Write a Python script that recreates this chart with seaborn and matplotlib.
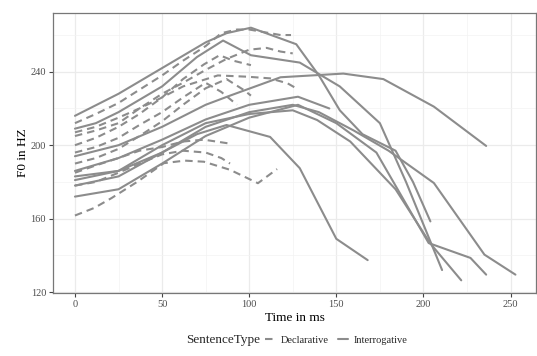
import matplotlib
matplotlib.use("Agg")
import matplotlib.pyplot as plt
from matplotlib.lines import Line2D
import seaborn as sns
import pandas as pd

# ---- data: Interrogative (solid) contours ----
int1_time = [0, 25, 50, 75, 87, 101, 127, 140, 152, 165, 184, 194, 204]
int1_f0 = [216, 228, 242, 256, 261, 264, 255, 238, 219, 206, 197, 180, 158.5]
int2_time = [0, 12, 25, 50, 70, 85, 101, 129, 152, 175, 190, 210.7]
int2_f0 = [209, 212, 218, 232, 248, 257, 249, 245, 232, 212, 180, 132]
int3_time = [0, 25, 50, 75, 89, 118, 154, 177, 206, 236]
int3_f0 = [194, 200, 210, 222, 227, 237, 239, 236, 221, 199.6]
int4_time = [0, 25, 50, 75, 100, 128, 146]
int4_f0 = [186, 193, 203, 214, 222, 226.4, 220]
int5_time = [0, 25, 50, 75, 100, 125, 140, 160, 180, 206, 235, 252.8]
int5_f0 = [178, 183, 196, 210, 218, 222, 218, 208, 197, 179.4, 140.4, 129.5]
int6_time = [0, 25, 50, 75, 100, 128, 150, 173, 203, 227, 236]
int6_f0 = [172, 176, 190, 205, 215, 222, 212, 196, 146.7, 138.6, 129.5]
int7_time = [0, 25, 50, 75, 100, 125, 139, 158, 184, 204, 221.7]
int7_f0 = [183, 186, 200, 212, 217, 219, 213.7, 202, 176, 146.4, 126.4]
int8_time = [0, 25, 50, 70, 87, 112, 129, 150, 168]
int8_f0 = [181, 186, 196, 206, 211, 204.5, 187.5, 149, 137.4]

# ---- data: Declarative (dashed) contours ----
dec1_time = [0, 11, 21, 36, 51, 63, 74, 89, 105, 116]
dec1_f0 = [161.7, 165.8, 171.2, 180.2, 190.2, 191.6, 191, 186.6, 179.3, 187]
dec2_time = [0, 12, 25, 37, 50, 62, 75, 84, 89]
dec2_f0 = [178, 180, 185, 190, 195, 197, 196, 193, 190]
dec3_time = [0, 12, 25, 37, 50, 62, 74, 88]
dec3_f0 = [185, 189, 193, 197, 199, 202, 203, 201]
dec4_time = [0, 12, 25, 37, 50, 62, 82, 99, 112, 122, 127]
dec4_f0 = [207, 210, 215, 220, 226, 232, 238, 237.3, 236.4, 233.7, 231]
dec5_time = [0, 12, 25, 50, 62, 75, 84, 93, 100, 118, 124]
dec5_f0 = [212, 217, 223, 238, 246, 254, 261, 263, 263, 260, 260]
dec6_time = [0, 12, 25, 37, 50, 62, 75, 87, 100, 110, 118, 125]
dec6_f0 = [205, 208, 212, 220, 228, 234, 241, 247, 252, 253, 251, 250]
dec7_time = [0, 12, 25, 37, 50, 62, 74, 83, 91, 101]
dec7_f0 = [200, 204, 210, 217, 226, 236, 244, 249, 246, 243.6]
dec8_time = [0, 12, 25, 37, 50, 62, 75, 84, 93]
dec8_f0 = [196, 199, 204, 211, 218, 226, 234, 229, 222]
dec9_time = [0, 12, 25, 37, 50, 62, 75, 87, 97, 101]
dec9_f0 = [190, 193, 198, 205, 213, 222, 231, 236, 230, 227]

sentence_types = ["Declarative", "Interrogative"]

interrogatives = [(int1_time, int1_f0), (int2_time, int2_f0), (int3_time, int3_f0),
                  (int4_time, int4_f0), (int5_time, int5_f0), (int6_time, int6_f0),
                  (int7_time, int7_f0), (int8_time, int8_f0)]
declaratives = [(dec1_time, dec1_f0), (dec2_time, dec2_f0), (dec3_time, dec3_f0),
                (dec4_time, dec4_f0), (dec5_time, dec5_f0), (dec6_time, dec6_f0),
                (dec7_time, dec7_f0), (dec8_time, dec8_f0), (dec9_time, dec9_f0)]

rows = []
for i, (t, f) in enumerate(declaratives):
    for tt, ff in zip(t, f):
        rows.append({"utt": f"D{i}", "SentenceType": "Declarative", "Time": tt, "F0": ff})
for i, (t, f) in enumerate(interrogatives):
    for tt, ff in zip(t, f):
        rows.append({"utt": f"I{i}", "SentenceType": "Interrogative", "Time": tt, "F0": ff})
df = pd.DataFrame(rows)

sns.set_theme(style="white")
plt.rcParams["font.family"] = ["Liberation Serif", "DejaVu Serif"]

line_col = "#8c8c8c"
dash_pat = (3.6, 2.4)
fig = plt.figure(figsize=(5.37, 3.56), dpi=100)
ax = fig.add_axes([53 / 537, 1 - 293 / 356, (536 - 53) / 537, (293 - 13) / 356])

sns.lineplot(data=df, x="Time", y="F0", units="utt", estimator=None,
             style="SentenceType", style_order=sentence_types,
             dashes={"Declarative": dash_pat, "Interrogative": ""},
             color=line_col, linewidth=1.5, sort=False, legend=False, ax=ax)

ax.set_xlim(-12.6, 264.6)
ax.set_ylim(119.5, 272)
ax.set_xticks([0, 50, 100, 150, 200, 250])
ax.set_yticks([120, 160, 200, 240])
ax.set_xticks([25, 75, 125, 175, 225], minor=True)
ax.set_yticks([140, 180, 220, 260], minor=True)
ax.grid(True, which="major", color="#ebebeb", linewidth=0.9)
ax.grid(True, which="minor", color="#f3f3f3", linewidth=0.5)
ax.set_axisbelow(True)
for s in ax.spines.values():
    s.set_color("#777777")
    s.set_linewidth(0.9)
ax.tick_params(axis="both", which="major", length=3, width=0.8, color="#444444",
               labelsize=7.5, labelcolor="#4d4d4d", pad=2, bottom=True, left=True)
ax.tick_params(axis="both", which="minor", length=0)
ax.set_xlabel("Time in ms", fontsize=9.5, color="black", labelpad=2)
ax.set_ylabel("F0 in HZ", fontsize=9.5, color="black", labelpad=1)

# legend at bottom
fig.text(186 / 537, 1 - 340 / 356, "SentenceType", fontsize=9.5, ha="left", va="center")
handles = [Line2D([0], [0], color=line_col, lw=1.5, linestyle=(0, dash_pat)),
           Line2D([0], [0], color=line_col, lw=1.5)]
fig.legend(handles, sentence_types, loc="center left", ncol=2, frameon=False,
           bbox_to_anchor=(260 / 537, 1 - 340 / 356), fontsize=7.5,
           handlelength=0.9, handletextpad=0.6, columnspacing=0.9, borderpad=0)

fig.savefig("out.png", dpi=100)
